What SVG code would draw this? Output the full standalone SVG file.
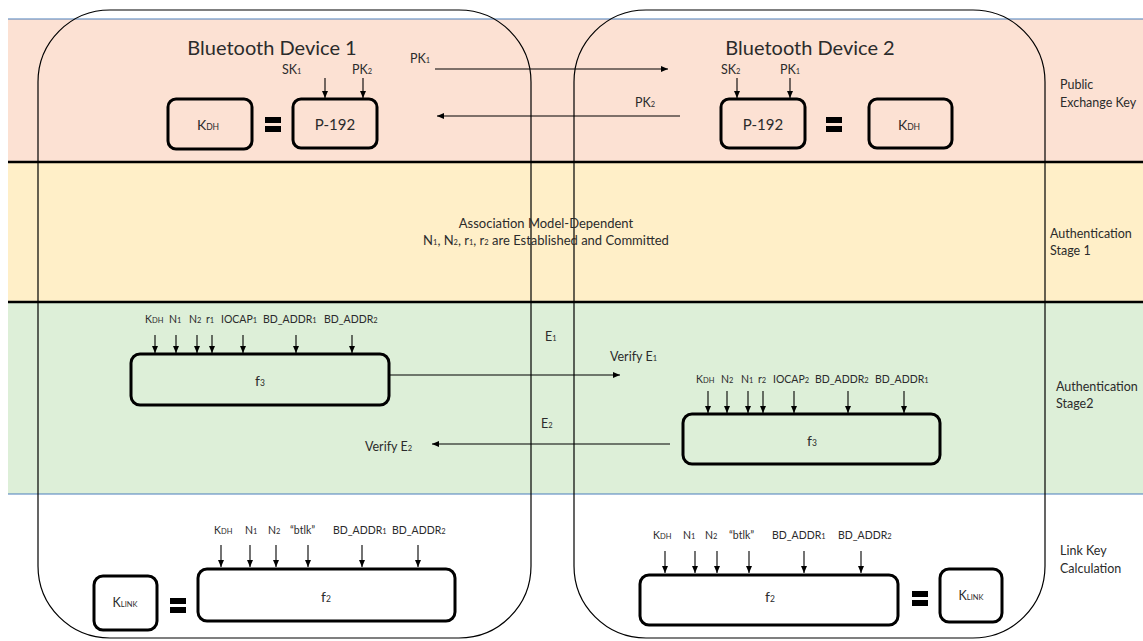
<svg xmlns="http://www.w3.org/2000/svg" width="1143" height="641" viewBox="0 0 1143 641">
<style>
text{font-family:Lato,"Liberation Sans",sans-serif;fill:#2b2b2b}
.t{font-size:12.5px}
.i{font-size:10.5px}
.s{font-size:7.5px}
.h{font-size:20px}
.m{font-size:13px}
.b{font-size:15px}
.k{font-size:14px}
.ks{font-size:8.5px}
.box{fill:none;stroke:#000;stroke-width:3}
.dev{fill:none;stroke:#000;stroke-width:1.2}
.ar{stroke:#000;stroke-width:1.1;fill:none;marker-end:url(#ah)}
.eq{fill:#000}
</style>
<defs>
<marker id="ah" markerWidth="8" markerHeight="8" refX="7" refY="4" orient="auto" markerUnits="userSpaceOnUse">
<path d="M0,1 L7,4 L0,7 Z" fill="#000"/>
</marker>
</defs>
<rect width="1143" height="641" fill="#fff"/>
<g id="bands">
<rect x="8" y="19" width="1135" height="143" fill="#FCE1D3"/>
<rect x="8" y="162" width="1135" height="140" fill="#FFEFC8"/>
<rect x="8" y="302" width="1135" height="192" fill="#DDEFD8"/>
<line x1="8" y1="19" x2="1143" y2="19" stroke="#4A7EBB" stroke-width="1"/>
<line x1="8" y1="162" x2="1143" y2="162" stroke="#000" stroke-width="2.5"/>
<line x1="8" y1="302" x2="1143" y2="302" stroke="#000" stroke-width="2.5"/>
<line x1="8" y1="494" x2="1143" y2="494" stroke="#4A7EBB" stroke-width="1.2"/>
</g>
<g id="device1">
<rect class="dev" x="38" y="10" width="493" height="628" rx="72"/>
<text class="h" x="272" y="55" text-anchor="middle">Bluetooth Device 1</text>
</g>
<g id="device2">
<rect class="dev" x="574" y="10" width="471" height="628" rx="72"/>
<text class="h" x="810" y="55" text-anchor="middle">Bluetooth Device 2</text>
</g>
<g id="labels">
<text class="t" x="1060" y="89">Public</text>
<text class="t" x="1060" y="107">Exchange Key</text>
<text class="t" x="1050" y="238">Authentication</text>
<text class="t" x="1050" y="255">Stage 1</text>
<text class="t" x="1056" y="391">Authentication</text>
<text class="t" x="1056" y="408">Stage2</text>
<text class="t" x="1060" y="555">Link Key</text>
<text class="t" x="1060" y="573">Calculation</text>
<text class="m" x="546" y="228" text-anchor="middle">Association Model-Dependent</text>
<text class="m" x="546" y="245" text-anchor="middle">N<tspan class="s">1</tspan>, N<tspan class="s">2</tspan>, r<tspan class="s">1</tspan>, r<tspan class="s">2</tspan> are Established and Committed</text>
</g>
<g id="d1-kdh">
<rect class="box" x="168" y="99" width="84" height="50" rx="8"/>
<text class="k" x="208" y="130" text-anchor="middle">K<tspan class="ks">DH</tspan></text>
</g>
<g id="d1-eq1"><rect class="eq" x="265" y="117" width="16" height="6"/><rect class="eq" x="265" y="126" width="16" height="6"/></g>
<g id="d1-p192">
<rect class="box" x="293" y="99" width="84" height="49" rx="8"/>
<text class="b" x="335" y="130" text-anchor="middle">P-192</text>
<text class="t" x="282" y="74">SK<tspan class="s">1</tspan></text>
<text class="t" x="352" y="74">PK<tspan class="s">2</tspan></text>
</g>
<g id="d2-p192">
<rect class="box" x="721" y="99" width="84" height="49" rx="8"/>
<text class="b" x="763" y="130" text-anchor="middle">P-192</text>
<text class="t" x="721" y="74">SK<tspan class="s">2</tspan></text>
<text class="t" x="780" y="74">PK<tspan class="s">1</tspan></text>
</g>
<g id="d2-eq1"><rect class="eq" x="826" y="117" width="16" height="6"/><rect class="eq" x="826" y="126" width="16" height="6"/></g>
<g id="d2-kdh">
<rect class="box" x="869" y="99" width="83" height="49" rx="8"/>
<text class="k" x="909" y="130" text-anchor="middle">K<tspan class="ks">DH</tspan></text>
</g>
<g id="d1-f3">
<rect class="box" x="131" y="354" width="258" height="51" rx="9"/>
<text class="k" x="260" y="386" text-anchor="middle">f<tspan class="ks">3</tspan></text>
<text class="i" x="145" y="323">K<tspan class="s">DH</tspan></text>
<text class="i" x="169" y="323">N<tspan class="s">1</tspan></text>
<text class="i" x="189" y="323">N<tspan class="s">2</tspan></text>
<text class="i" x="206" y="323">r<tspan class="s">1</tspan></text>
<text class="i" x="221" y="323">IOCAP<tspan class="s">1</tspan></text>
<text class="i" x="263" y="323">BD_ADDR<tspan class="s">1</tspan></text>
<text class="i" x="324" y="323">BD_ADDR<tspan class="s">2</tspan></text>
</g>
<g id="d2-f3">
<rect class="box" x="683" y="414" width="257" height="50" rx="9"/>
<text class="k" x="812" y="446" text-anchor="middle">f<tspan class="ks">3</tspan></text>
<text class="i" x="696" y="383">K<tspan class="s">DH</tspan></text>
<text class="i" x="721" y="383">N<tspan class="s">2</tspan></text>
<text class="i" x="741" y="383">N<tspan class="s">1</tspan></text>
<text class="i" x="758" y="383">r<tspan class="s">2</tspan></text>
<text class="i" x="773" y="383">IOCAP<tspan class="s">2</tspan></text>
<text class="i" x="815" y="383">BD_ADDR<tspan class="s">2</tspan></text>
<text class="i" x="875" y="383">BD_ADDR<tspan class="s">1</tspan></text>
</g>
<g id="d1-klink">
<rect class="box" x="94" y="576" width="63" height="54" rx="9"/>
<text class="t" x="125" y="607" text-anchor="middle">K<tspan class="s">LINK</tspan></text>
</g>
<g id="d1-eq2"><rect class="eq" x="170" y="598" width="16" height="6"/><rect class="eq" x="170" y="607" width="16" height="6"/></g>
<g id="d1-f2">
<rect class="box" x="198" y="569" width="257" height="52" rx="9"/>
<text class="k" x="326" y="602" text-anchor="middle">f<tspan class="ks">2</tspan></text>
<text class="i" x="214" y="534">K<tspan class="s">DH</tspan></text>
<text class="i" x="245" y="534">N<tspan class="s">1</tspan></text>
<text class="i" x="268" y="534">N<tspan class="s">2</tspan></text>
<text class="i" x="290" y="534">“btlk”</text>
<text class="i" x="333" y="534">BD_ADDR<tspan class="s">1</tspan></text>
<text class="i" x="392" y="534">BD_ADDR<tspan class="s">2</tspan></text>
</g>
<g id="d2-f2">
<rect class="box" x="640" y="575" width="258" height="50" rx="9"/>
<text class="k" x="770" y="602" text-anchor="middle">f<tspan class="ks">2</tspan></text>
<text class="i" x="653" y="539">K<tspan class="s">DH</tspan></text>
<text class="i" x="683" y="539">N<tspan class="s">1</tspan></text>
<text class="i" x="705" y="539">N<tspan class="s">2</tspan></text>
<text class="i" x="729" y="539">“btlk”</text>
<text class="i" x="772" y="539">BD_ADDR<tspan class="s">1</tspan></text>
<text class="i" x="838" y="539">BD_ADDR<tspan class="s">2</tspan></text>
</g>
<g id="d2-eq2"><rect class="eq" x="912" y="591" width="16" height="6"/><rect class="eq" x="912" y="600" width="16" height="6"/></g>
<g id="d2-klink">
<rect class="box" x="940" y="569" width="62" height="53" rx="9"/>
<text class="t" x="971" y="600" text-anchor="middle">K<tspan class="s">LINK</tspan></text>
</g>
<g id="connectors">
<path class="ar" d="M325,78 V98"/><path class="ar" d="M363,78 V98"/>
<path class="ar" d="M737,78 V98"/><path class="ar" d="M790,78 V98"/>
<path class="ar" d="M435,69 H668"/>
<path class="ar" d="M680,116 H437"/>
<path class="ar" d="M155,335 V353"/><path class="ar" d="M176,335 V353"/><path class="ar" d="M197,335 V353"/><path class="ar" d="M212,335 V353"/><path class="ar" d="M243,335 V353"/><path class="ar" d="M296,335 V353"/><path class="ar" d="M352,335 V353"/>
<path class="ar" d="M389,375 H620"/>
<path class="ar" d="M708,391 V413"/><path class="ar" d="M727,391 V413"/><path class="ar" d="M748,391 V413"/><path class="ar" d="M763,391 V413"/><path class="ar" d="M794,391 V413"/><path class="ar" d="M848,391 V413"/><path class="ar" d="M904,391 V413"/>
<path class="ar" d="M670,444 H432"/>
<path class="ar" d="M221,545 V567"/><path class="ar" d="M250,545 V567"/><path class="ar" d="M276,545 V567"/><path class="ar" d="M308,545 V567"/><path class="ar" d="M362,545 V567"/><path class="ar" d="M418,545 V567"/>
<path class="ar" d="M665,551 V573"/><path class="ar" d="M695,551 V573"/><path class="ar" d="M717,551 V573"/><path class="ar" d="M749,551 V573"/><path class="ar" d="M804,551 V573"/><path class="ar" d="M861,551 V573"/>
</g>
<g id="connector-labels">
<text class="t" x="410" y="63">PK<tspan class="s">1</tspan></text>
<text class="t" x="635" y="107">PK<tspan class="s">2</tspan></text>
<text class="t" x="545" y="341">E<tspan class="s">1</tspan></text>
<text class="t" x="610" y="361">Verify E<tspan class="s">1</tspan></text>
<text class="t" x="541" y="428">E<tspan class="s">2</tspan></text>
<text class="t" x="365" y="451">Verify E<tspan class="s">2</tspan></text>
</g>
</svg>
